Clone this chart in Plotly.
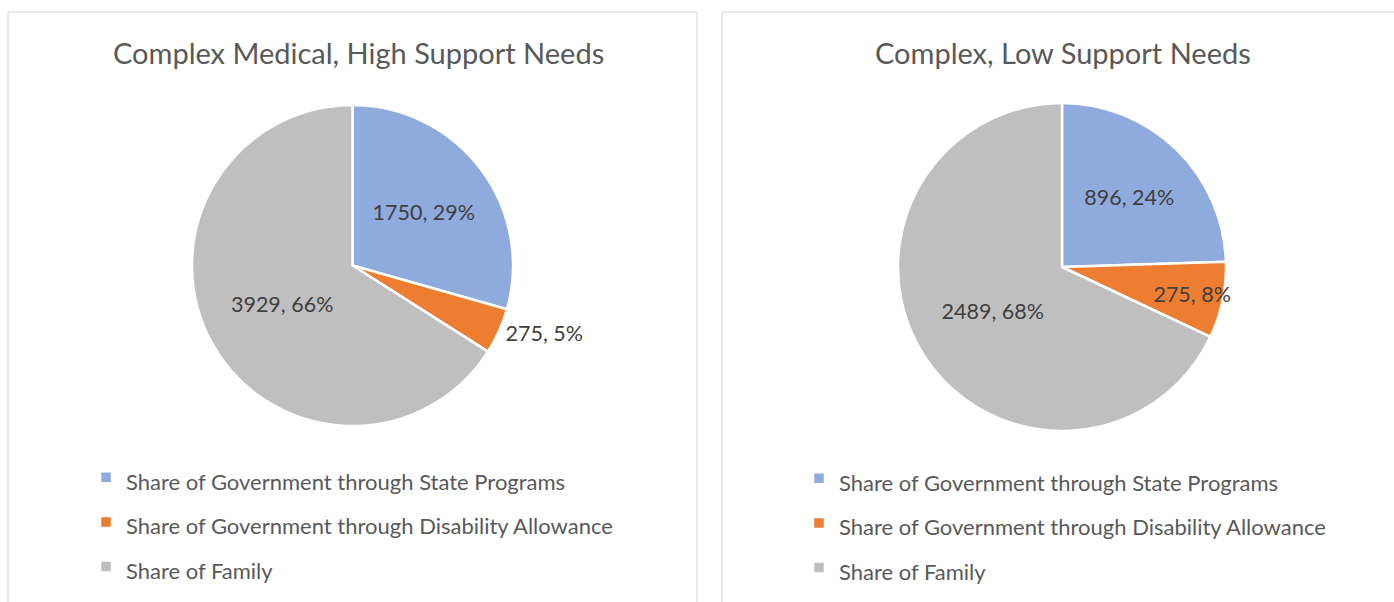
import plotly.graph_objects as go

categories = ["Share of Government through State Programs",
              "Share of Government through Disability Allowance",
              "Share of Family"]
high_support = [1750, 275, 3929]
low_support = [896, 275, 2489]
titles = ["Complex Medical, High Support Needs", "Complex, Low Support Needs"]
colors = ["#8faadc", "#ed7d31", "#bfbfbf"]

W, H = 1394, 602
FONT = "Lato, Carlito, Calibri, sans-serif"

def px_x(v):
    return v / W

def px_y(v):
    return 1 - v / H

legend_labels = [f"<span style='font-size:22px'>{c}</span>" for c in categories]

fig = go.Figure()
fig.add_trace(go.Pie(
    labels=legend_labels, values=high_support, sort=False, direction="clockwise",
    rotation=0, marker=dict(colors=colors, line=dict(color="white", width=2.5)),
    texttemplate="%{value}, %{percent:.0%}",
    textposition=["inside", "outside", "inside"],
    insidetextorientation="horizontal",
    textfont=dict(family=FONT, size=21.5, color="#404040"),
    domain=dict(x=[px_x(192), px_x(513)], y=[px_y(427), px_y(104)]),
    legend="legend", legendgroup="left", hoverinfo="label+value+percent",
))
fig.add_trace(go.Pie(
    labels=legend_labels, values=low_support, sort=False, direction="clockwise",
    rotation=0, marker=dict(colors=colors, line=dict(color="white", width=2.5)),
    texttemplate="%{value}, %{percent:.0%}",
    textposition="inside",
    insidetextorientation="horizontal",
    textfont=dict(family=FONT, size=21.5, color="#404040"),
    domain=dict(x=[px_x(898), px_x(1226)], y=[px_y(431), px_y(103)]),
    legend="legend2", legendgroup="right", hoverinfo="label+value+percent",
))

legend_common = dict(font=dict(family=FONT, size=32, color="#595959"),
                     bgcolor="rgba(0,0,0,0)", yanchor="top", xanchor="left",
                     orientation="v", traceorder="normal")
fig.update_layout(
    width=W, height=H,
    margin=dict(l=0, r=0, t=0, b=0),
    paper_bgcolor="white",
    uniformtext=dict(minsize=21.5, mode="show"),
    legend=dict(x=px_x(86), y=px_y(450), **legend_common),
    legend2=dict(x=px_x(799), y=px_y(451), **legend_common),
    shapes=[
        dict(type="rect", xref="paper", yref="paper", x0=px_x(8), x1=px_x(697),
             y0=px_y(620), y1=px_y(12), line=dict(color="#d9d9d9", width=1.2)),
        dict(type="rect", xref="paper", yref="paper", x0=px_x(722), x1=px_x(1400),
             y0=px_y(620), y1=px_y(12), line=dict(color="#d9d9d9", width=1.2)),
    ],
    annotations=[
        dict(text=titles[0], x=px_x(358), y=px_y(53), xref="paper", yref="paper",
             xanchor="center", yanchor="middle",
             showarrow=False, font=dict(family=FONT, size=29, color="#595959")),
        dict(text=titles[1], x=px_x(1063), y=px_y(52), xref="paper", yref="paper",
             xanchor="center", yanchor="middle",
             showarrow=False, font=dict(family=FONT, size=29, color="#595959")),
    ],
)

fig.write_html("out.html", config={"displayModeBar": False},
               post_script="document.body.style.margin='0';")
